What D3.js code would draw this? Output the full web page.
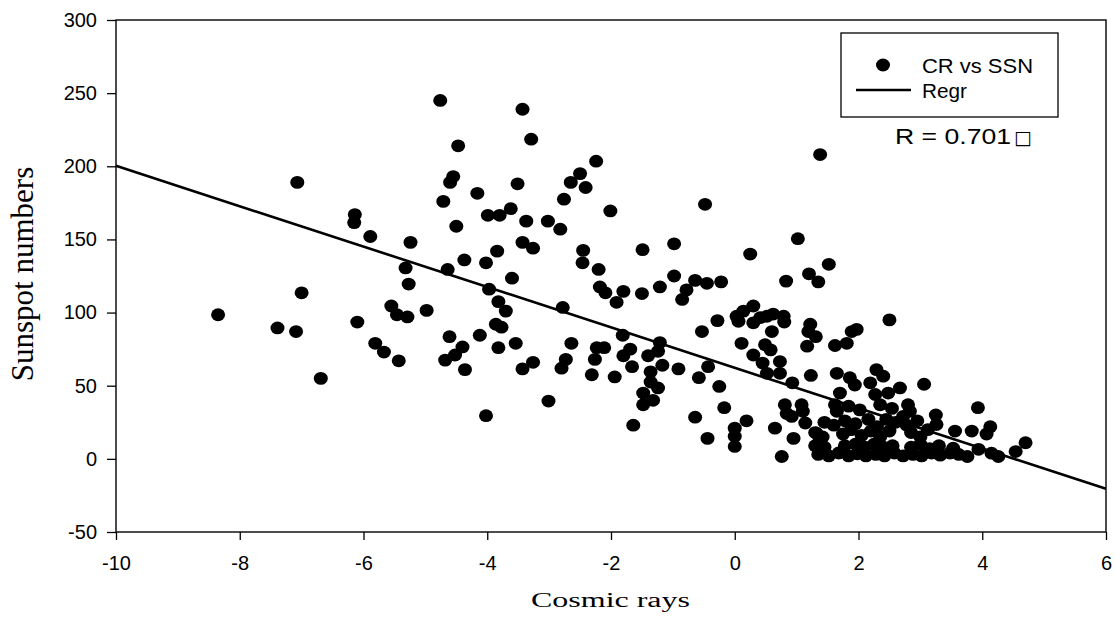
<!DOCTYPE html>
<html>
<head>
<meta charset="utf-8">
<script src="https://cdn.jsdelivr.net/npm/d3@7"></script>
<style>
  body { margin: 0; background: #fff; }
  .tick text { font-family: "Liberation Sans", Arial, sans-serif; font-size: 20px; fill: #000; }
</style>
</head>
<body>
<svg id="chart"></svg>
<script>
// Cosmic rays (x) vs sunspot numbers (y)
const crVals = [
  -4.76,-4.47,-4.55,-4.60,-4.16,-4.71,-7.07,-6.14,-6.15,-5.89,-5.24,-3.99,-3.80,-4.50,-3.84,-4.37,-4.02,-4.64,-5.32,-5.27,
  -3.97,-3.82,-7.00,-8.35,-7.39,-7.09,-6.10,-5.55,-5.46,-5.29,-4.98,-3.86,-3.77,-3.82,-4.12,-4.61,-4.40,-4.52,-4.68,-4.36,
  -5.81,-5.67,-5.43,-6.69,-4.02,
  -3.43,-3.29,-2.24,-2.50,-2.65,-2.41,-2.76,-3.51,-2.01,-0.48,1.02,1.38,-3.62,-3.37,-3.02,-2.82,-3.43,-3.26,-2.45,-2.46,
  -2.20,-1.49,-0.98,0.25,-3.60,-3.70,-3.54,-3.43,-3.26,-3.01,-2.78,-2.64,-2.73,-2.80,-2.18,-2.09,-1.91,-1.80,-1.50,-1.21,
  -0.98,-0.78,-0.85,-0.64,-0.45,-0.22,0.83,1.20,1.35,
  -1.81,-2.23,-2.11,-2.26,-2.31,-1.94,-1.69,-1.80,-1.66,-1.21,-1.24,-1.40,-1.17,-1.36,-1.36,-1.24,-1.48,-1.32,-1.48,-0.91,
  -0.58,-0.43,-0.53,-0.28,-1.64,-0.64,-0.25,-0.17,-0.44,0.00,0.00,0.00,0.19,
  0.11,0.30,0.45,0.49,0.58,0.73,0.52,0.73,0.93,0.60,
  0.03,0.14,0.30,0.30,0.41,0.52,0.62,0.79,0.80,0.06,
  1.22,1.19,1.31,1.17,1.23,
  0.81,0.92,1.08,1.10,1.14,0.95,0.76,0.65,1.32,1.35,0.84,
  1.52,1.62,1.81,1.89,1.97,2.50,1.65,1.86,1.94,1.70,1.62,1.65,1.84,2.02,2.16,2.29,2.40,2.19,2.27,2.48,
  2.67,3.06,2.35,2.54,2.80,2.83,2.72,3.25,3.26,3.93,4.13,4.07,3.83,3.56,4.70,4.54,4.26,4.15,3.94,3.76,
  3.53,3.48,
  1.35,1.52,1.68,1.84,1.98,2.12,2.28,2.42,2.58,2.72,2.88,3.02,3.18,3.32,3.62,
  1.30,1.45,1.78,1.95,2.10,2.25,2.40,2.55,2.85,3.00,3.15,3.30,
  1.30,1.42,1.75,1.88,2.05,2.20,2.35,2.50,2.85,3.00,3.12,
  1.45,1.60,1.78,1.95,2.30,2.45,2.60,2.78,2.95
];
const ssnVals = [
  245,214,193,189,181.5,176,189,167,161.5,152,148,166.5,166.5,159,142,136,134,129.5,130.5,119.5,
  116,107.5,113.5,98.5,89.5,87,93.5,104.5,98.5,97,101.5,92,90,76,84.5,83.5,76.5,71,67.5,61,
  79,73,67,55,29.5,
  239,218.5,203.5,195,189,185.5,177.5,188,169.5,174,150.5,208,171,162.5,162.5,157,148,144,142.5,134,
  129.5,143,147,140,123.5,101,79,61.5,66,39.5,103.5,79,68,62,117.5,113.5,107,114.5,113,117.5,
  125,115.5,109,122,120,121,121.5,126.5,121,
  84.5,76,76,68,57.5,56,75,70.5,63,79.5,73.5,70.5,64,59.5,52.5,48.5,45,40,37,61.5,
  55.5,63,87,94.5,23,28.5,49.5,35,14,21,15.5,8.5,26,
  79,71,65.5,78,74.5,66.5,58.5,58.5,52,87,
  97.5,101,104.5,93,96.5,97.5,99,97.5,93.5,94,
  92,87,83.5,77,57,
  37,29,37,32.5,24.5,14,1.6,21,17.5,10.5,31,
  133,77.5,79,87,88.5,95,58.5,55.5,50.5,45,37,32.5,36,33.5,27,61,56.5,52,44,45,
  48.5,51,37,34.5,37,32.5,29,30,23.5,35,22,17,19,19,11,5,1.6,3.9,6.5,1.6,
  7.3,4,
  3,2,4,2,3.5,2,3,2,4,2,3,2,4,2.5,3,
  9,8,9,10,8,10,8,9,8,10,7,9,
  18,15,17,20,16,19,15,19,18,15,20,
  25,23,26,24,22,27,25,23,26
];

// regression line end points
const regrX = [-10, 6];
const regrY = [200.3, -20.5];

const xTicks = [-10, -8, -6, -4, -2, 0, 2, 4, 6];
const yTicks = [-50, 0, 50, 100, 150, 200, 250, 300];

const legendLabels = ["CR vs SSN", "Regr"];
const legendWidths = [111, 45];
const rLabel = "R = 0.701";
const rBox = "\u25A1";

const width = 1115, height = 621;
const svg = d3.select('svg#chart')
    .attr('width', width)
    .attr('height', height);

const x = d3.scaleLinear().domain([-10, 6]).range([116, 1106]);
const y = d3.scaleLinear().domain([-50, 300]).range([532, 20]);

// axes (plain hyphen for negatives, like the original)
svg.append('g')
    .attr('transform', 'translate(0,532)')
    .call(d3.axisBottom(x).tickValues(xTicks).tickSize(8).tickPadding(16).tickFormat(d => String(d)))
    .call(g => g.select('.domain').remove())
    .call(g => g.selectAll('.tick line').attr('stroke', '#000').attr('stroke-width', 1.3));

svg.append('g')
    .attr('transform', 'translate(116,0)')
    .call(d3.axisLeft(y).tickValues(yTicks).tickSize(9).tickPadding(10).tickFormat(d => String(d)))
    .call(g => g.select('.domain').remove())
    .call(g => g.selectAll('.tick line').attr('stroke', '#000').attr('stroke-width', 1.3));

// frame
svg.append('rect')
    .attr('x', x(-10)).attr('y', y(300))
    .attr('width', x(6) - x(-10)).attr('height', y(-50) - y(300))
    .attr('fill', 'none').attr('stroke', '#000').attr('stroke-width', 1.4);

// regression
svg.append('line')
    .attr('x1', x(regrX[0])).attr('y1', y(regrY[0]))
    .attr('x2', x(regrX[1])).attr('y2', y(regrY[1]))
    .attr('stroke', '#000').attr('stroke-width', 2.6);

// points
const pts = crVals.map((d, i) => ({cr: d, ssn: ssnVals[i]}));
svg.append('g').selectAll('ellipse.pt')
    .data(pts)
    .enter().append('ellipse')
    .classed('pt', true)
    .attr('cx', d => x(d.cr))
    .attr('cy', d => y(d.ssn))
    .attr('rx', 7)
    .attr('ry', 6.4)
    .attr('fill', '#000');

// legend
const lg = svg.append('g');
lg.append('rect')
    .attr('x', 841).attr('y', 33).attr('width', 217).attr('height', 84)
    .attr('fill', '#fff').attr('stroke', '#000').attr('stroke-width', 1.3);
lg.append('ellipse')
    .attr('cx', 883).attr('cy', 65).attr('rx', 7).attr('ry', 6.4).attr('fill', '#000');
lg.append('line')
    .attr('x1', 856).attr('x2', 911).attr('y1', 90).attr('y2', 90)
    .attr('stroke', '#000').attr('stroke-width', 2.6);
lg.selectAll('text.lab')
    .data(legendLabels)
    .enter().append('text')
    .classed('lab', true)
    .attr('x', 922)
    .attr('y', (d, i) => 73 + i * 25)
    .attr('textLength', (d, i) => legendWidths[i])
    .attr('lengthAdjust', 'spacingAndGlyphs')
    .style('font-family', '"Liberation Sans", Arial, sans-serif')
    .style('font-size', '20px')
    .text(d => d);

const rt = svg.append('text')
    .attr('x', 895).attr('y', 144)
    .style('font-family', '"Liberation Sans", Arial, sans-serif')
    .style('font-size', '22px');
rt.append('tspan')
    .attr('textLength', 116)
    .attr('lengthAdjust', 'spacingAndGlyphs')
    .text(rLabel);
rt.append('tspan')
    .attr('dx', 3)
    .style('font-size', '19px')
    .style('font-family', '"DejaVu Sans", sans-serif')
    .text(rBox);

// axis titles
svg.append('text')
    .attr('x', 531).attr('y', 607)
    .attr('textLength', 159)
    .attr('lengthAdjust', 'spacingAndGlyphs')
    .style('font-family', '"Liberation Serif", "Times New Roman", serif')
    .style('font-size', '20px')
    .text('Cosmic rays');

svg.append('text')
    .attr('transform', 'translate(33,274) rotate(-90)')
    .attr('text-anchor', 'middle')
    .style('font-family', '"Liberation Serif", "Times New Roman", serif')
    .style('font-size', '31px')
    .text('Sunspot numbers');
</script>
</body>
</html>
